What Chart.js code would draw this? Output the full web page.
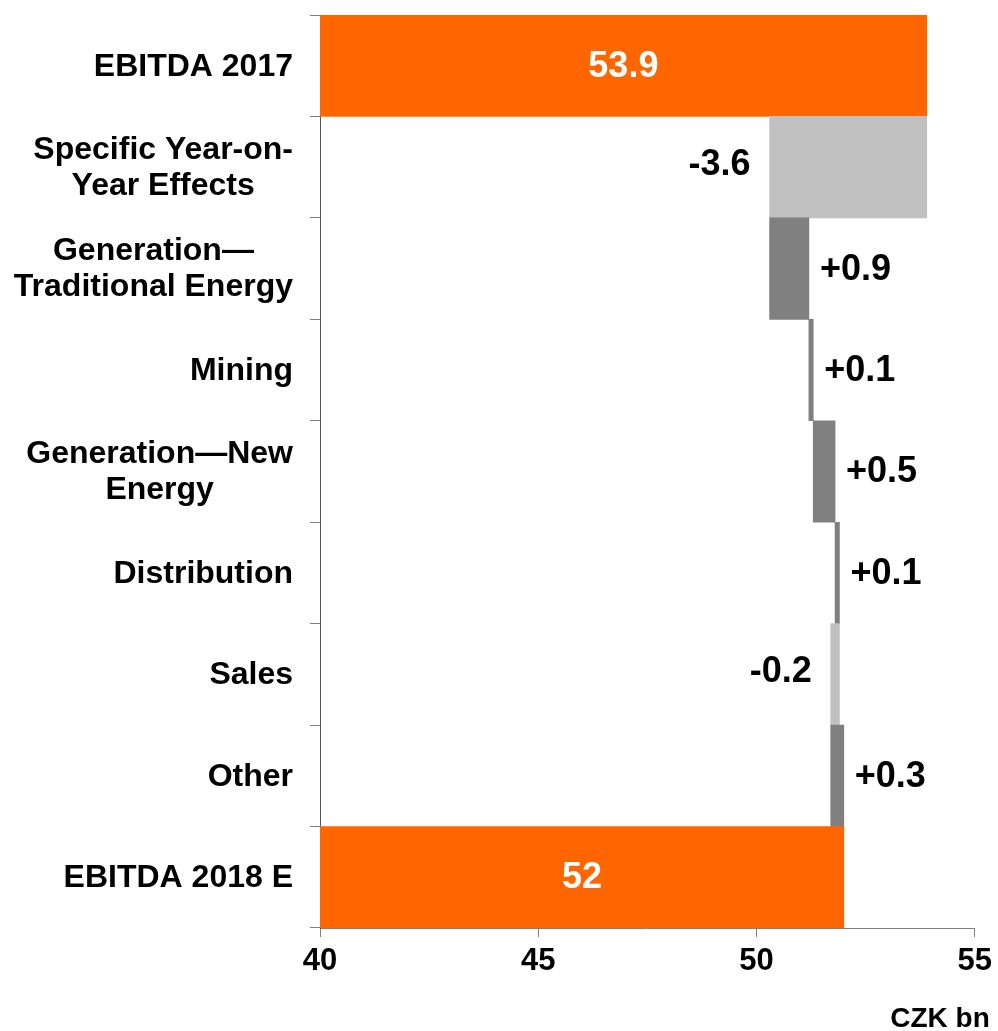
<!DOCTYPE html>
<html>
<head>
<meta charset="utf-8">
<script src="https://cdn.jsdelivr.net/npm/chart.js@4"></script>
<style>
html,body{margin:0;padding:0;background:#fff;}
#wrap{width:998px;height:1031px;position:relative;}
</style>
</head>
<body>
<div id="wrap"><canvas id="c"></canvas></div>
<script>
const categories = [
  "EBITDA 2017",
  "Specific Year-on-\nYear Effects",
  "Generation—\nTraditional Energy",
  "Mining",
  "Generation—New\nEnergy",
  "Distribution",
  "Sales",
  "Other",
  "EBITDA 2018 E"
];
const startTotal = 53.9;
const deltas = [-3.6, 0.9, 0.1, 0.5, 0.1, -0.2, 0.3];
const endTotal = 52.0;
const valueLabels = ["53.9", "-3.6", "+0.9", "+0.1", "+0.5", "+0.1", "-0.2", "+0.3", "52"];
const xTicks = [40, 45, 50, 55];
const axisMin = 40, axisMax = 55;
const unitLabel = "CZK bn";

const ORANGE = "#FF6600", LIGHT = "#C0C0C0", DARK = "#808080";
const FONT = "'Liberation Sans', Arial, sans-serif";

// floating bar ranges
const ranges = [];
const colors = [];
const kinds = [];
ranges.push([axisMin, startTotal]); colors.push(ORANGE); kinds.push("total");
let run = startTotal;
deltas.forEach(d => {
  const nxt = run + d;
  ranges.push([run, nxt]);
  colors.push(d < 0 ? LIGHT : DARK);
  kinds.push(d < 0 ? "neg" : "pos");
  run = nxt;
});
ranges.push([axisMin, endTotal]); colors.push(ORANGE); kinds.push("total");

const labelPlugin = {
  id: "labels",
  afterDatasetsDraw(chart) {
    const ctx = chart.ctx;
    const meta = chart.getDatasetMeta(0);
    const yScale = chart.scales.y;
    ctx.save();
    // category labels: block right-aligned, lines centered
    ctx.font = "bold 32px " + FONT;
    ctx.fillStyle = "#000";
    ctx.textBaseline = "middle";
    ctx.textAlign = "center";
    const rightEdge = yScale.right - 27;
    const lh = 36;
    categories.forEach((lab, i) => {
      const lines = lab.split("\n");
      const maxW = Math.max(...lines.map(l => ctx.measureText(l).width));
      const cx = rightEdge - maxW / 2;
      const cy = yScale.getPixelForValue(i);
      lines.forEach((l, k) => {
        ctx.fillText(l, cx, cy + (k - (lines.length - 1) / 2) * lh + 1);
      });
    });
    // value labels
    ctx.font = "bold 36px " + FONT;
    meta.data.forEach((el, i) => {
      const left = Math.min(el.x, el.base), right = Math.max(el.x, el.base);
      const y = el.y + 1;
      if (kinds[i] === "total") {
        ctx.fillStyle = "#fff";
        ctx.textAlign = "center";
        ctx.fillText(valueLabels[i], (left + right) / 2, y);
      } else if (kinds[i] === "pos") {
        ctx.fillStyle = "#000";
        ctx.textAlign = "left";
        ctx.fillText(valueLabels[i], right + 11, y);
      } else {
        ctx.fillStyle = "#000";
        ctx.textAlign = "right";
        ctx.fillText(valueLabels[i], left - 19, y - 3);
      }
    });
    // unit label
    ctx.font = "bold 28px " + FONT;
    ctx.fillStyle = "#000";
    ctx.textAlign = "center";
    ctx.textBaseline = "alphabetic";
    ctx.fillText(unitLabel, 940, 1027);
    ctx.restore();
  }
};

new Chart(document.getElementById("c"), {
  type: "bar",
  data: {
    labels: categories,
    datasets: [{
      data: ranges,
      backgroundColor: colors,
      borderWidth: 0,
      barPercentage: 1,
      categoryPercentage: 1
    }]
  },
  options: {
    indexAxis: "y",
    responsive: true,
    maintainAspectRatio: false,
    animation: false,
    layout: { padding: { top: 15, right: 22, left: 0, bottom: 0 } },
    plugins: { legend: { display: false }, tooltip: { enabled: false } },
    scales: {
      x: {
        type: "linear",
        min: axisMin,
        max: axisMax,
        afterBuildTicks(scale) { scale.ticks = xTicks.map(v => ({ value: v })); },
        ticks: { font: { family: FONT, size: 31, weight: "bold" }, color: "#000", padding: 6 },
        grid: { drawOnChartArea: false, drawTicks: true, tickLength: 9, color: "#808080" },
        border: { display: true, color: "#808080", width: 1 },
        afterFit(scale) { scale.height = 103; }
      },
      y: {
        type: "category",
        offset: true,
        ticks: { display: false },
        grid: { offset: true, drawOnChartArea: false, drawTicks: true, tickLength: 10, color: "#808080" },
        border: { display: true, color: "#555", width: 1 },
        afterFit(scale) { scale.width = 320; }
      }
    }
  },
  plugins: [labelPlugin]
});
</script>
</body>
</html>
